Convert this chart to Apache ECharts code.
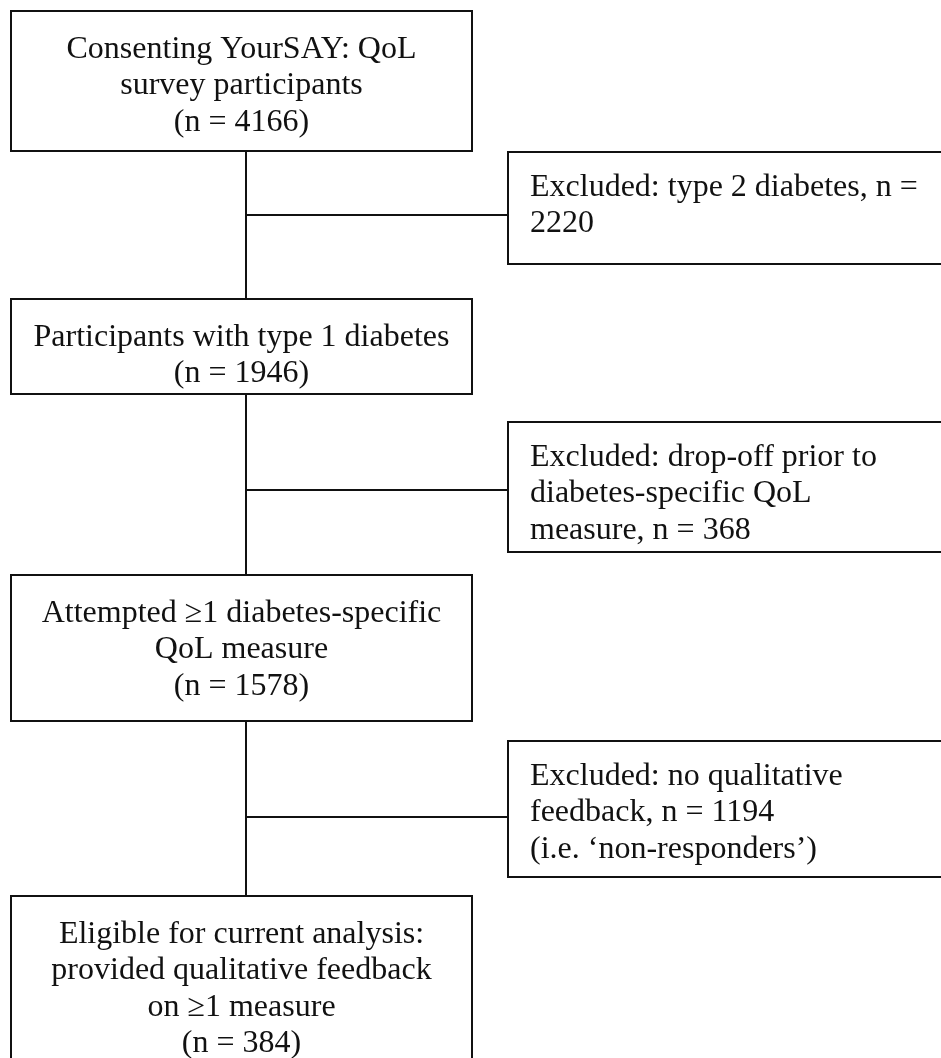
<!DOCTYPE html>
<html>
<head>
<meta charset="utf-8">
<script src="https://cdn.jsdelivr.net/npm/echarts@6/dist/echarts.min.js"></script>
<style>
  html, body { margin: 0; padding: 0; background: #fff; }
  #chart { width: 941px; height: 1058px; }
</style>
</head>
<body>
<div id="chart"></div>
<script>
// flow steps (main column)
const stepLabels = [
  'Consenting YourSAY: QoL\nsurvey participants',
  'Participants with type 1 diabetes',
  'Attempted \u22651 diabetes-specific\nQoL measure',
  'Eligible for current analysis:\nprovided qualitative feedback\non \u22651 measure'
];
const stepCounts = [4166, 1946, 1578, 384];

// exclusions (side boxes), {n} is replaced by the count
const excludedLabels = [
  'Excluded: type 2 diabetes, n =\n{n}',
  'Excluded: drop-off prior to\ndiabetes-specific QoL\nmeasure, n = {n}',
  'Excluded: no qualitative\nfeedback, n = {n}\n(i.e. \u2018non-responders\u2019)'
];
const excludedCounts = [2220, 368, 1194];

// layout, in picture units (x 0..941, y 0..1058 from top)
const stepBoxes = [[11, 11, 472, 151], [11, 299, 472, 394], [11, 575, 472, 721], [11, 896, 472, 1080]];
const excludedBoxes = [[508, 152, 960, 264], [508, 422, 960, 552], [508, 741, 960, 877]];
const spineX = 246;
const branchY = [215, 490, 817];

const FONT = '"Liberation Serif", "Times New Roman", serif';
const INK = '#111';

const chart = echarts.init(document.getElementById('chart'));

// connector segments: spine + one branch per exclusion
const segments = [[spineX, stepBoxes[0][3], spineX, stepBoxes[stepBoxes.length - 1][1]]].concat(
  branchY.map((y, i) => [spineX, y, excludedBoxes[i][0], y])
);

const boxes = stepBoxes
  .map((b, i) => ({
    box: b,
    text: stepLabels[i] + '\n(n = ' + stepCounts[i] + ')',
    align: 'center'
  }))
  .concat(
    excludedBoxes.map((b, i) => ({
      box: b,
      text: excludedLabels[i].replace('{n}', excludedCounts[i]),
      align: 'left'
    }))
  );

const option = {
  animation: false,
  backgroundColor: '#fff',
  grid: { left: 0, right: 0, top: 0, bottom: 0 },
  xAxis: { type: 'value', min: 0, max: 941, show: false },
  yAxis: { type: 'value', min: 0, max: 1058, inverse: true, show: false },
  series: [
    {
      type: 'custom',
      data: segments,
      renderItem: (params, api) => {
        const s = segments[params.dataIndex];
        const p1 = api.coord([s[0], s[1]]);
        const p2 = api.coord([s[2], s[3]]);
        return {
          type: 'line',
          shape: { x1: p1[0], y1: p1[1], x2: p2[0], y2: p2[1] },
          style: { stroke: INK, lineWidth: 2 }
        };
      }
    },
    {
      type: 'custom',
      data: boxes.map((b, i) => i),
      renderItem: (params, api) => {
        const item = boxes[params.dataIndex];
        const b = item.box;
        const p1 = api.coord([b[0], b[1]]);
        const p2 = api.coord([b[2], b[3]]);
        const isCenter = item.align === 'center';
        return {
          type: 'group',
          children: [
            {
              type: 'rect',
              shape: { x: p1[0], y: p1[1], width: p2[0] - p1[0], height: p2[1] - p1[1] },
              style: { fill: '#fff', stroke: INK, lineWidth: 2 }
            },
            {
              type: 'text',
              style: {
                text: item.text,
                x: isCenter ? (p1[0] + p2[0]) / 2 : p1[0] + 22,
                y: p1[1] + (isCenter ? 20 : 17),
                align: isCenter ? 'center' : 'left',
                verticalAlign: 'top',
                fill: INK,
                fontFamily: FONT,
                fontSize: 32,
                lineHeight: 36.5
              }
            }
          ]
        };
      }
    }
  ]
};

chart.setOption(option);
</script>
</body>
</html>
